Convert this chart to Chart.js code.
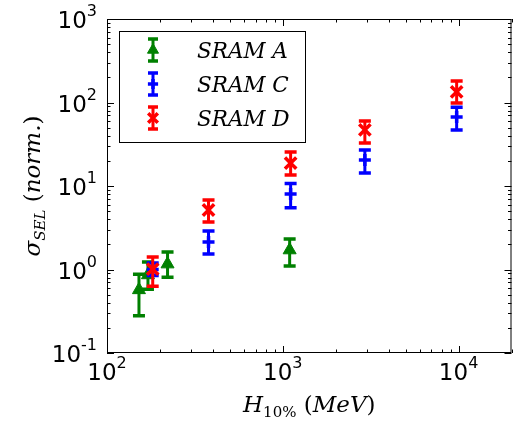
<!DOCTYPE html>
<html>
<head>
<meta charset="utf-8">
<script src="https://cdn.jsdelivr.net/npm/chart.js@4.4.0/dist/chart.umd.min.js"></script>
<style>
  body { margin: 0; background: #fff; }
</style>
</head>
<body>
<canvas id="graficaSel" width="523" height="424"></canvas>
<script>
// Datos (H10% en MeV, sigma normalizada)
const etiquetas = ['SRAM A', 'SRAM C', 'SRAM D'];

const energiaA = [152, 171, 221, 1094];
const sigmaA   = [0.57, 0.86, 1.16, 1.71];
const bajoA    = [0.28, 0.58, 0.81, 1.10];
const altoA    = [0.88, 1.23, 1.62, 2.32];

const energiaC = [182, 378, 1108, 2930, 9750];
const sigmaC   = [1.0, 2.13, 8.0, 20.5, 67];
const bajoC    = [0.85, 1.53, 5.5, 14.3, 47];
const altoC    = [1.2, 2.89, 10.7, 27, 88];

const energiaD = [182, 378, 1108, 2930, 9750];
const sigmaD   = [1.01, 5.16, 18.8, 47, 134];
const bajoD    = [0.63, 3.7, 13.5, 32.7, 98.6];
const altoD    = [1.41, 6.8, 25.5, 60, 181];

const ticksX = [100, 1000, 10000];
const expX   = ['2', '3', '4'];
const ticksY = [0.1, 1, 10, 100, 1000];
const expY   = ['-1', '0', '1', '2', '3'];

const colores = ['#008000', '#0000ff', '#ff0000'];
const marcas  = ['triangle', 'cross', 'crossRot'];
const radios  = [7.5, 6, 8];

function puntos(xs, ys) {
    return xs.map((x, i) => ({ x: x, y: ys[i] }));
}

// Barras de error dibujadas justo antes de cada serie
const barrasError = {
    id: 'barrasError',
    beforeDatasetDraw(chart, args) {
        const ds = chart.data.datasets[args.index];
        const ctx = chart.ctx;
        const escalaY = chart.scales.y;
        ctx.save();
        ctx.strokeStyle = ds.borderColor;
        args.meta.data.forEach((p, i) => {
            const ya = escalaY.getPixelForValue(ds.alto[i]);
            const yb = escalaY.getPixelForValue(ds.bajo[i]);
            ctx.lineWidth = 3;
            ctx.beginPath();
            ctx.moveTo(p.x, ya);
            ctx.lineTo(p.x, yb);
            ctx.stroke();
            ctx.lineWidth = 3.5;
            ctx.beginPath();
            ctx.moveTo(p.x - 6, ya); ctx.lineTo(p.x + 6, ya);
            ctx.moveTo(p.x - 6, yb); ctx.lineTo(p.x + 6, yb);
            ctx.stroke();
        });
        ctx.restore();
    }
};

// Texto con partes en distintas fuentes (sub/superíndices)
function anchoPartes(ctx, partes) {
    let w = 0;
    partes.forEach(p => { ctx.font = p.f; w += ctx.measureText(p.t).width; });
    return w;
}
function textoPartes(ctx, partes, x, y) {
    partes.forEach(p => {
        ctx.font = p.f;
        ctx.fillText(p.t, x, y + (p.dy || 0));
        x += ctx.measureText(p.t).width;
    });
}

// Marco, ticks, etiquetas, títulos y leyenda
const marcoEjes = {
    id: 'marcoEjes',
    afterDraw(chart) {
        const ctx = chart.ctx;
        const a = chart.chartArea;
        const sx = chart.scales.x, sy = chart.scales.y;
        ctx.save();
        ctx.strokeStyle = '#000';
        ctx.lineWidth = 1;
        ctx.strokeRect(a.left + 0.5, a.top + 0.5, a.right - a.left - 1, a.bottom - a.top - 1);

        ctx.beginPath();
        // ticks eje x
        for (let d = 100; d <= 10000; d *= 10) {
            for (let k = 1; k <= 9; k++) {
                const v = d * k;
                if (v > sx.max) break;
                const px = Math.round(sx.getPixelForValue(v)) + 0.5;
                const largo = k === 1 ? 7 : 3.5;
                ctx.moveTo(px, a.bottom); ctx.lineTo(px, a.bottom - largo);
                ctx.moveTo(px, a.top); ctx.lineTo(px, a.top + largo);
            }
        }
        // ticks eje y
        for (let d = 0.1; d <= 1000; d *= 10) {
            for (let k = 1; k <= 9; k++) {
                const v = d * k;
                if (v > sy.max * 1.0001) break;
                const py = Math.round(sy.getPixelForValue(v)) + 0.5;
                const largo = k === 1 ? 7 : 3.5;
                ctx.moveTo(a.left, py); ctx.lineTo(a.left + largo, py);
                ctx.moveTo(a.right, py); ctx.lineTo(a.right - largo, py);
            }
        }
        ctx.stroke();

        ctx.fillStyle = '#000';
        ctx.textBaseline = 'alphabetic';
        ctx.textAlign = 'left';
        const fBase = '23px "DejaVu Sans"', fExp = '16px "DejaVu Sans"';
        ticksX.forEach((v, i) => {
            const partes = [{ t: '10', f: fBase }, { t: expX[i], f: fExp, dy: -12 }];
            const w = anchoPartes(ctx, partes);
            textoPartes(ctx, partes, sx.getPixelForValue(v) - w / 2, a.bottom + 27);
        });
        ticksY.forEach((v, i) => {
            const partes = [{ t: '10', f: fBase }, { t: expY[i], f: fExp, dy: -12 }];
            const w = anchoPartes(ctx, partes);
            textoPartes(ctx, partes, 97 - w, sy.getPixelForValue(v) + 9);
        });

        // títulos
        const fIt = 'italic 23px "DejaVu Serif"', fItSub = 'italic 15px "DejaVu Serif"';
        const fSub = '15px "DejaVu Serif"', fNor = '23px "DejaVu Serif"';
        const tituloX = [
            { t: 'H', f: fIt }, { t: '10%', f: fSub, dy: 5 },
            { t: ' (', f: fNor }, { t: 'MeV', f: fIt }, { t: ')', f: fNor }
        ];
        const wx = anchoPartes(ctx, tituloX);
        textoPartes(ctx, tituloX, (a.left + a.right) / 2 - wx / 2, 412);

        const tituloY = [
            { t: 'σ', f: fIt }, { t: 'SEL', f: fItSub, dy: 5 },
            { t: ' (', f: fNor }, { t: 'norm.', f: fIt }, { t: ')', f: fNor }
        ];
        const wy = anchoPartes(ctx, tituloY);
        ctx.save();
        ctx.translate(40, (a.top + a.bottom) / 2);
        ctx.rotate(-Math.PI / 2);
        textoPartes(ctx, tituloY, -wy / 2, 0);
        ctx.restore();

        // leyenda
        ctx.fillStyle = '#fff';
        ctx.fillRect(119, 31, 186, 111);
        ctx.strokeRect(119.5, 31.5, 186, 111);
        const filas = [50, 84, 118];
        chart.data.datasets.forEach((ds, i) => {
            const cx = 153, cy = filas[i];
            ctx.strokeStyle = ds.borderColor;
            ctx.fillStyle = ds.backgroundColor;
            ctx.lineWidth = 3;
            ctx.beginPath();
            ctx.moveTo(cx, cy - 11); ctx.lineTo(cx, cy + 11);
            ctx.stroke();
            ctx.lineWidth = 3.5;
            ctx.beginPath();
            ctx.moveTo(cx - 5, cy - 11); ctx.lineTo(cx + 5, cy - 11);
            ctx.moveTo(cx - 5, cy + 11); ctx.lineTo(cx + 5, cy + 11);
            ctx.stroke();
            ctx.lineWidth = ds.borderWidth;
            Chart.helpers.drawPoint(ctx, {
                pointStyle: ds.pointStyle, radius: ds.pointRadius * 0.85,
                borderWidth: ds.borderWidth, rotation: 0
            }, cx, cy);
            ctx.fillStyle = '#000';
            ctx.font = 'italic 21.5px "DejaVu Serif"';
            ctx.fillText(ds.label, 197, cy + 8);
        });
        ctx.restore();
    }
};

const series = [
    [energiaA, sigmaA, bajoA, altoA],
    [energiaC, sigmaC, bajoC, altoC],
    [energiaD, sigmaD, bajoD, altoD]
];

new Chart(document.getElementById('graficaSel'), {
    type: 'scatter',
    data: {
        datasets: series.map((s, i) => ({
            label: etiquetas[i],
            data: puntos(s[0], s[1]),
            bajo: s[2],
            alto: s[3],
            pointStyle: marcas[i],
            pointRadius: radios[i],
            pointHoverRadius: radios[i],
            borderWidth: i === 0 ? 1 : 3.5,
            borderColor: colores[i],
            backgroundColor: colores[i],
            order: 3 - i
        }))
    },
    options: {
        responsive: false,
        animation: false,
        events: [],
        layout: { padding: { left: 107, right: 3, top: 19, bottom: 71 } },
        plugins: {
            legend: { display: false },
            tooltip: { enabled: false }
        },
        scales: {
            x: { type: 'logarithmic', min: 100, max: 20000, display: false },
            y: { type: 'logarithmic', min: 0.1, max: 1000, display: false }
        }
    },
    plugins: [barrasError, marcoEjes]
});
</script>
</body>
</html>
